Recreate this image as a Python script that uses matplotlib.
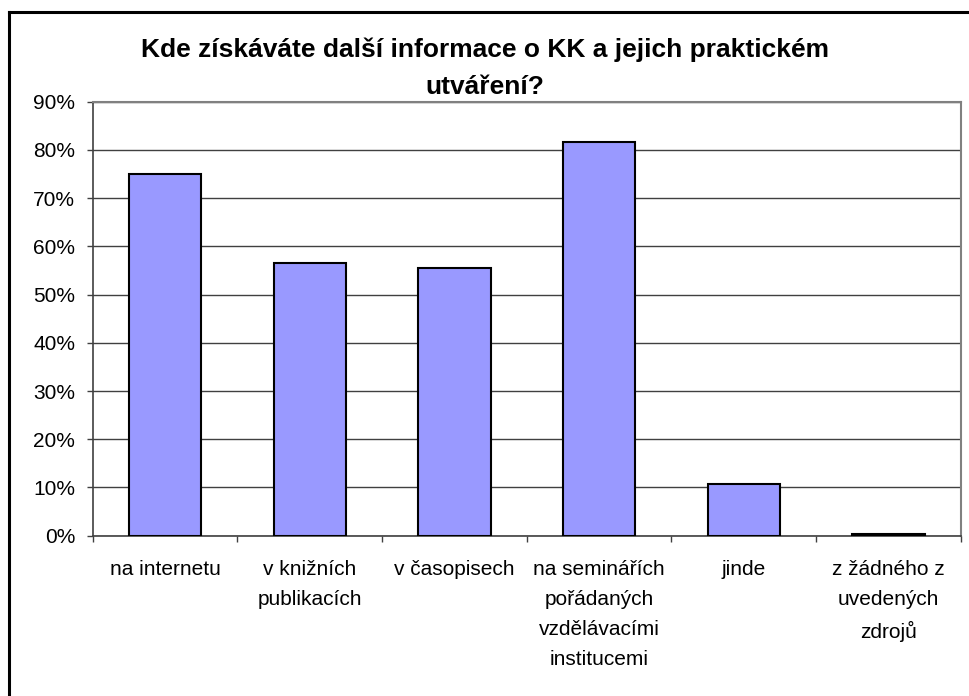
import matplotlib
matplotlib.use("Agg")
import matplotlib.pyplot as plt
import numpy as np
from matplotlib.lines import Line2D
from matplotlib.ticker import FixedLocator, PercentFormatter

plt.rcParams['font.family'] = ['Liberation Sans', 'DejaVu Sans']

# data
categories = ["na internetu", "v knižních\npublikacích", "v časopisech",
              "na seminářích\npořádaných\nvzdělávacími\ninstitucemi",
              "jinde", "z žádného z\nuvedených\nzdrojů"]
values = [75.0, 56.5, 55.6, 81.7, 10.8, 0.4]
title_lines = ["Kde získáváte další informace o KK a jejich praktickém", "utváření?"]

W, H = 970, 696
fig = plt.figure(figsize=(W / 100, H / 100), dpi=100)
ax = fig.add_axes([92.7 / W, 1 - 535.7 / H, (960.7 - 92.7) / W, (535.7 - 101.7) / H])

x = np.arange(len(categories))
ax.bar(x, values, width=0.5, color='#9999FF', edgecolor='black', linewidth=1.5, zorder=3)

ax.set_xlim(-0.5, len(categories) - 0.5)
ax.set_ylim(0, 90)
ax.set_yticks(np.arange(0, 91, 10))
ax.yaxis.set_major_formatter(PercentFormatter(decimals=0))
ax.yaxis.grid(True, color='#404040', linewidth=1.0, zorder=0)

ax.set_xticks(x)
ax.set_xticklabels(categories, fontsize=15, linespacing=1.73, va='top')
ax.xaxis.set_minor_locator(FixedLocator(np.arange(-0.5, len(categories), 1.0)))
ax.tick_params(axis='x', which='major', length=0, pad=17.5)
ax.tick_params(axis='x', which='minor', length=4.3, width=1.0, color='#404040', direction='out')
ax.tick_params(axis='y', length=4.2, width=1.0, color='#404040', labelsize=15, pad=8.5)

for side in ['top', 'right']:
    ax.spines[side].set_color('#808080')
    ax.spines[side].set_linewidth(1.5)
for side in ['left', 'bottom']:
    ax.spines[side].set_color('#404040')
    ax.spines[side].set_linewidth(1.2)

# title, two lines as in the original
fig.text(0.5, 1 - 56.5 / H, title_lines[0], ha='center', va='baseline', fontsize=19,
         fontweight='bold')
fig.text(0.5, 1 - 94.5 / H, title_lines[1], ha='center', va='baseline', fontsize=19,
         fontweight='bold')

# outer chart frame
fig.add_artist(Line2D([9 / W, 9 / W], [0, 1 - 11.5 / H], transform=fig.transFigure,
                      color='black', linewidth=2.2))
fig.add_artist(Line2D([9 / W, 1], [1 - 11.5 / H, 1 - 11.5 / H], transform=fig.transFigure,
                      color='black', linewidth=2.2))

fig.savefig("out.png", dpi=100)
